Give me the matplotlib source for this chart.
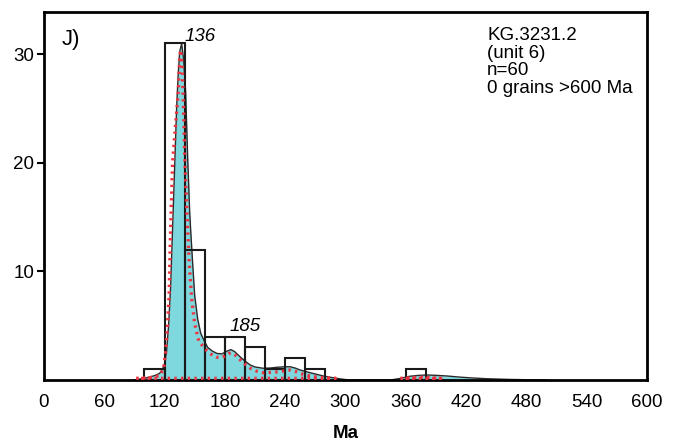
import numpy as np
import matplotlib.pyplot as plt

plt.rcParams['font.family'] = ['Liberation Sans', 'DejaVu Sans']

# histogram: bin left edges (Ma) and counts
bin_left = [100, 120, 140, 160, 180, 200, 220, 240, 260, 360]
counts = [1, 31, 12, 4, 4, 3, 1, 2, 1, 1]
bin_width = 20

# black outlined, cyan filled density curve
kde_x = [90, 100, 110, 115, 118, 120, 122, 124, 126, 128, 130, 132, 133.5, 135, 137,
         139, 141, 143, 145, 146, 148, 150, 153, 156, 160, 163, 167, 172, 177, 182,
         186, 190, 195, 200, 205, 210, 218, 225, 232, 240, 245, 250, 255, 265, 278,
         291, 300, 305, 345, 355, 364, 372, 381, 390, 401, 412, 424, 440, 464, 490, 500]
kde_y = [0, 0.15, 0.4, 0.6, 1.0, 1.5, 2.6, 5.0, 8.5, 14.0, 19.5, 25.0, 28.0, 30.2, 31.0,
         29.5, 26.5, 20.5, 15.5, 13.8, 10.7, 7.8, 5.6, 4.3, 3.5, 3.0, 2.7, 2.45, 2.4, 2.65,
         2.8, 2.6, 2.15, 1.75, 1.4, 1.2, 1.08, 1.1, 1.17, 1.22, 1.22, 1.1, 0.92, 0.67, 0.37,
         0.15, 0.04, 0, 0, 0.15, 0.34, 0.42, 0.46, 0.43, 0.37, 0.28, 0.2, 0.12, 0.05, 0.01, 0]

# red dotted curve (two pieces)
pdp_x1 = [92, 105, 115, 119, 121, 123, 124.5, 126, 128, 131, 133.6, 135, 136, 137.5,
          138.6, 140.3, 142.5, 144.6, 147, 150, 154, 160, 166, 172, 178, 184, 187, 192,
          196, 201, 206, 212, 218, 225, 232, 240, 245, 250, 255, 265, 278, 290]
pdp_y1 = [0.15, 0.2, 0.4, 1.0, 2.5, 5.0, 7.7, 13.8, 20.0, 23.5, 26.5, 29.5, 30.4, 29.0,
          26.0, 20.0, 15.0, 10.7, 7.5, 5.2, 3.6, 2.9, 2.4, 2.1, 2.1, 2.45, 2.5, 2.2,
          1.8, 1.4, 1.05, 0.8, 0.67, 0.7, 0.75, 0.85, 0.92, 0.8, 0.6, 0.37, 0.18, 0.15]
pdp_x2 = [355, 365, 375, 385, 395]
pdp_y2 = [0.15, 0.2, 0.25, 0.2, 0.15]
red_base = 0.15

peak_labels = [(140, 31.6, '136'), (185, 4.9, '185')]
info = 'KG.3231.2\n(unit 6)\nn=60\n0 grains >600 Ma'

fig = plt.figure(figsize=(6.83, 4.48), dpi=100)
ax = fig.add_axes([0.0644, 0.1518, 0.8826, 0.8214])

ax.fill_between(kde_x, 0, kde_y, color='#7fd8de', lw=0, zorder=1)
ax.plot(kde_x, kde_y, color='#2a2a2a', lw=1.0, zorder=2)

ax.bar(bin_left, counts, width=bin_width, align='edge', fill=False,
       edgecolor='#1a1a1a', lw=1.5, zorder=3)

red = '#ee3340'
for px, py in [(pdp_x1, pdp_y1), (pdp_x2, pdp_y2)]:
    ax.plot(list(px) + [px[-1], px[0]], list(py) + [red_base, red_base],
            color=red, lw=2.4, ls=(0, (0.7, 1.3)), dash_capstyle='butt', zorder=4)

for lx, ly, txt in peak_labels:
    ax.text(lx, ly, txt, style='italic', fontsize=13.5, ha='left', va='center', zorder=5)

ax.text(0.03, 0.955, 'J)', transform=ax.transAxes, fontsize=16, ha='left', va='top')
ax.text(0.735, 0.96, info, transform=ax.transAxes, fontsize=13.5, ha='left', va='top',
        linespacing=1.06)

ax.set_xlim(0, 600)
ax.set_ylim(0, 33.9)
ax.set_xticks(np.arange(0, 601, 60))
ax.set_yticks([10, 20, 30])
ax.tick_params(axis='x', length=0, pad=10, labelsize=13.5)
ax.tick_params(axis='y', length=5, width=1.5, labelsize=13.5, pad=2)
for s in ax.spines.values():
    s.set_linewidth(2)
ax.set_xlabel('Ma', fontsize=13.5, fontweight='bold', labelpad=10)

fig.savefig('out.png', dpi=100)
